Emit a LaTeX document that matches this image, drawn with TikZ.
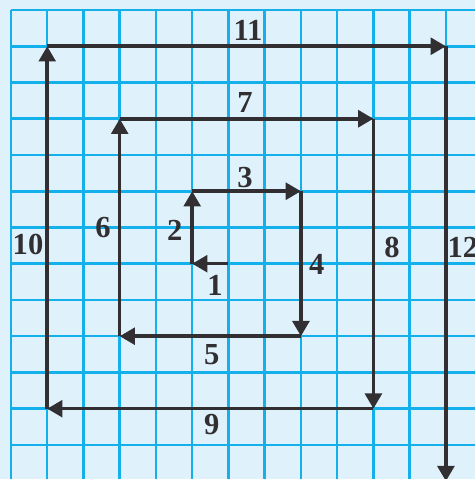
\documentclass[tikz,border=0pt]{standalone}
\usepackage{fontspec}
\setmainfont{Liberation Serif}
\definecolor{paper1}{RGB}{223, 242, 251}
\definecolor{grid1}{RGB}{20, 176, 236}
\definecolor{ink1}{RGB}{50, 47, 50}
\usepackage{tikz}
\usetikzlibrary{arrows.meta}

\tikzset{
  spiral/.style={draw=ink1, line width=2.8pt, -{Triangle[length=0.42cm, width=0.46cm]}},
  num/.style={font=\fontsize{24}{24}\selectfont\bfseries, text=ink1, inner sep=0pt}
}

\begin{document}
\begin{tikzpicture}
  % paper and squares
  \fill[paper1] (-0.303, 0.276) rectangle (12.8, -12.94);
  \useasboundingbox (-0.303, 0.276) rectangle (12.8, -12.94);
  \foreach \i in {0,...,12} {
    \draw[grid1, line width=2pt] (\i, 0) -- (\i, -12.94);
    \draw[grid1, line width=2pt] (0, -\i) -- (12.8, -\i);
  }

  % corners of the spiral
  \coordinate (p0) at (6, -7);
  \coordinate (p1) at (5, -7);
  \coordinate (p2) at (5, -5);
  \coordinate (p3) at (8, -5);
  \coordinate (p4) at (8, -9);
  \coordinate (p5) at (3, -9);
  \coordinate (p6) at (3, -3);
  \coordinate (p7) at (10, -3);
  \coordinate (p8) at (10, -11);
  \coordinate (p9) at (1, -11);
  \coordinate (p10) at (1, -1);
  \coordinate (p11) at (12, -1);
  \coordinate (p12) at (12, -13);

  \draw[spiral] (p0) -- (p1);
  \draw[spiral] (p1) -- (p2);
  \draw[spiral] (p2) -- (p3);
  \draw[spiral] (p3) -- (p4);
  \draw[spiral] (p4) -- (p5);
  \draw[spiral] (p5) -- (p6);
  \draw[spiral] (p6) -- (p7);
  \draw[spiral] (p7) -- (p8);
  \draw[spiral] (p8) -- (p9);
  \draw[spiral] (p9) -- (p10);
  \draw[spiral] (p10) -- (p11);
  \draw[spiral] (p11) -- (p12);

  % step lengths
  \node[num] (l1) at (5.63, -7.59) {1};
  \node[num] (l2) at (4.52, -6.07) {2};
  \node[num] (l3) at (6.46, -4.61) {3};
  \node[num] (l4) at (8.44, -7.03) {4};
  \node[num] (l5) at (5.54, -9.52) {5};
  \node[num] (l6) at (2.54, -6.01) {6};
  \node[num] (l7) at (6.46, -2.54) {7};
  \node[num] (l8) at (10.51, -6.54) {8};
  \node[num] (l9) at (5.54, -11.45) {9};
  \node[num] (l10) at (0.47, -6.48) {10};
  \node[num] (l11) at (6.54, -0.55) {11};
  \node[num] (l12) at (12.47, -6.54) {12};
\end{tikzpicture}
\end{document}
